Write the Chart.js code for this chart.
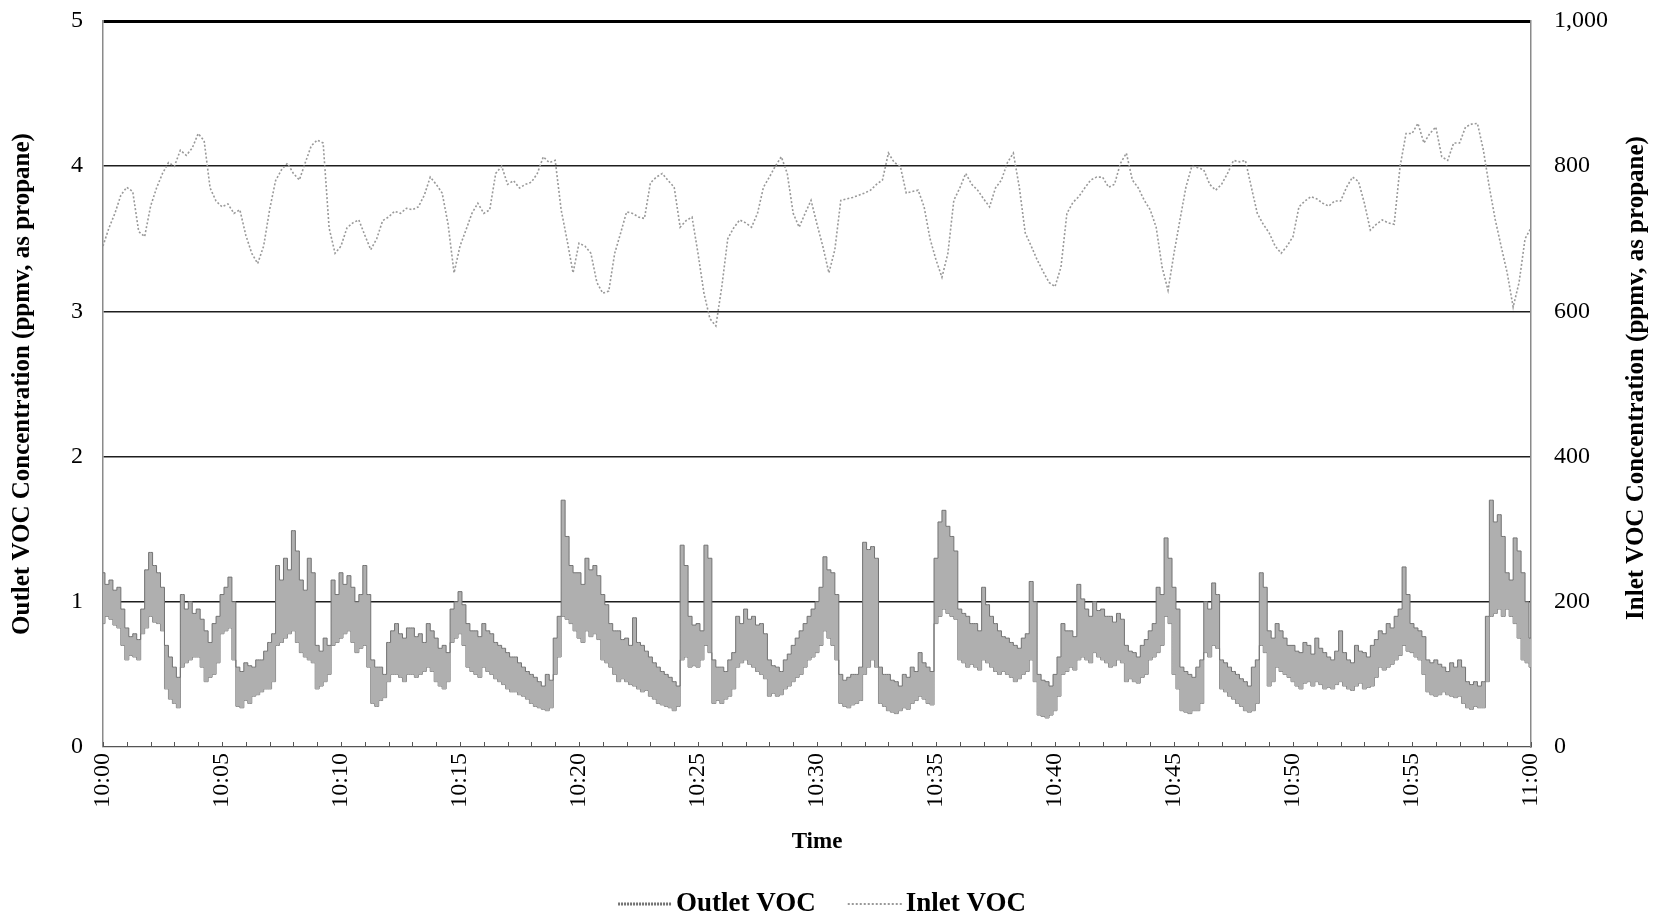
<!DOCTYPE html>
<html>
<head>
<meta charset="utf-8">
<title>Outlet and Inlet VOC Concentration</title>
<script src="https://cdn.jsdelivr.net/npm/chart.js@4.4.1/dist/chart.umd.min.js"></script>
<style>
  html, body { margin: 0; padding: 0; background: #fff; }
  #wrap { width: 1659px; height: 922px; }
</style>
</head>
<body>
<div id="wrap"><canvas id="c" width="1659" height="922"></canvas></div>
<script>
// Clock labels for the x axis, one every 5 minutes from 10:00 to 11:00
const timeLabels = ['10:00', '10:05', '10:10', '10:15', '10:20', '10:25', '10:30',
                    '10:35', '10:40', '10:45', '10:50', '10:55', '11:00'];

// Outlet VOC (ppmv as propane): highest and lowest reading in each 10-second window,
// six windows per minute
const OUTLET_STEP_MIN = 1 / 6;
const outletMax = [
  1.20, 1.12, 1.15, 1.08, 1.10, 0.95,   0.82, 0.76, 0.78, 0.74, 0.95, 1.22,
  1.34, 1.25, 1.20, 1.10, 0.70, 0.62,   0.55, 0.48, 1.05, 0.95, 1.00, 0.92,
  0.95, 0.88, 0.80, 0.72, 0.85, 0.90,   1.05, 1.10, 1.17, 1.00, 0.55, 0.52,
  0.58, 0.56, 0.55, 0.60, 0.60, 0.66,   0.72, 0.78, 1.25, 1.15, 1.30, 1.22,
  1.49, 1.35, 1.15, 1.08, 1.30, 1.20,   0.70, 0.66, 0.75, 0.70, 1.15, 1.05,
  1.20, 1.12, 1.18, 1.10, 1.00, 1.05,   1.25, 1.05, 0.60, 0.55, 0.55, 0.50,
  0.72, 0.80, 0.85, 0.78, 0.75, 0.82,   0.82, 0.76, 0.78, 0.72, 0.85, 0.80,
  0.75, 0.68, 0.70, 0.65, 0.95, 1.00,   1.07, 0.98, 0.85, 0.80, 0.80, 0.76,
  0.85, 0.80, 0.78, 0.72, 0.70, 0.68,   0.65, 0.62, 0.62, 0.58, 0.55, 0.52,
  0.50, 0.48, 0.45, 0.42, 0.50, 0.46,   0.75, 0.90, 1.70, 1.45, 1.25, 1.20,
  1.20, 1.12, 1.30, 1.22, 1.25, 1.18,   1.05, 0.98, 0.85, 0.80, 0.80, 0.74,
  0.75, 0.70, 0.89, 0.72, 0.70, 0.66,   0.62, 0.58, 0.55, 0.52, 0.50, 0.48,
  0.45, 0.42, 1.39, 1.25, 0.90, 0.84,   0.85, 0.80, 1.39, 1.30, 0.60, 0.55,
  0.55, 0.52, 0.60, 0.65, 0.90, 0.85,   0.95, 0.88, 0.90, 0.84, 0.85, 0.78,
  0.60, 0.56, 0.55, 0.52, 0.60, 0.64,   0.70, 0.75, 0.80, 0.85, 0.90, 0.95,
  1.00, 1.10, 1.31, 1.22, 1.20, 1.05,   0.50, 0.46, 0.48, 0.50, 0.50, 0.55,
  1.41, 1.36, 1.38, 1.30, 0.55, 0.50,   0.50, 0.46, 0.45, 0.42, 0.50, 0.48,
  0.55, 0.52, 0.65, 0.58, 0.55, 0.52,   1.30, 1.55, 1.63, 1.52, 1.45, 1.35,
  0.95, 0.92, 0.90, 0.85, 0.85, 0.80,   1.10, 0.98, 0.90, 0.85, 0.80, 0.76,
  0.75, 0.72, 0.70, 0.68, 0.75, 0.78,   1.14, 1.00, 0.50, 0.46, 0.45, 0.42,
  0.50, 0.62, 0.85, 0.80, 0.80, 0.76,   1.12, 1.02, 0.95, 0.90, 1.00, 0.94,
  0.95, 0.90, 0.90, 0.86, 0.92, 0.88,   0.70, 0.66, 0.65, 0.62, 0.70, 0.74,
  0.80, 0.85, 1.10, 1.05, 1.44, 1.30,   1.10, 0.95, 0.55, 0.52, 0.50, 0.48,
  0.55, 0.60, 1.00, 0.95, 1.13, 1.05,   0.60, 0.58, 0.55, 0.52, 0.50, 0.47,
  0.45, 0.42, 0.55, 0.60, 1.20, 1.10,   0.80, 0.75, 0.85, 0.80, 0.75, 0.70,
  0.70, 0.66, 0.65, 0.72, 0.70, 0.64,   0.75, 0.68, 0.65, 0.62, 0.60, 0.66,
  0.80, 0.65, 0.60, 0.58, 0.70, 0.66,   0.65, 0.62, 0.70, 0.74, 0.80, 0.78,
  0.85, 0.82, 0.90, 0.95, 1.24, 1.05,   0.85, 0.82, 0.80, 0.76, 0.60, 0.58,
  0.60, 0.57, 0.55, 0.52, 0.58, 0.55,   0.60, 0.55, 0.45, 0.43, 0.45, 0.42,
  0.45, 0.90, 1.70, 1.55, 1.60, 1.45,   1.20, 1.15, 1.44, 1.35, 1.20, 1.00,
  0.75
];
const outletMin = [
  0.85, 0.90, 0.88, 0.84, 0.82, 0.70,   0.60, 0.63, 0.62, 0.60, 0.78, 0.82,
  0.90, 0.86, 0.85, 0.80, 0.40, 0.33,   0.30, 0.27, 0.55, 0.58, 0.60, 0.62,
  0.62, 0.55, 0.45, 0.48, 0.50, 0.58,   0.78, 0.80, 0.82, 0.60, 0.28, 0.27,
  0.32, 0.30, 0.35, 0.36, 0.38, 0.40,   0.40, 0.45, 0.70, 0.72, 0.75, 0.78,
  0.80, 0.72, 0.65, 0.62, 0.60, 0.58,   0.40, 0.42, 0.45, 0.50, 0.70, 0.72,
  0.75, 0.78, 0.80, 0.72, 0.65, 0.68,   0.70, 0.55, 0.30, 0.28, 0.32, 0.34,
  0.45, 0.50, 0.50, 0.48, 0.45, 0.50,   0.50, 0.48, 0.50, 0.52, 0.55, 0.52,
  0.45, 0.42, 0.40, 0.45, 0.72, 0.75,   0.78, 0.70, 0.55, 0.52, 0.50, 0.48,
  0.55, 0.52, 0.50, 0.47, 0.45, 0.43,   0.40, 0.38, 0.38, 0.36, 0.35, 0.33,
  0.30, 0.28, 0.27, 0.26, 0.25, 0.27,   0.50, 0.62, 0.90, 0.88, 0.85, 0.80,
  0.75, 0.72, 0.80, 0.76, 0.78, 0.74,   0.60, 0.58, 0.55, 0.50, 0.45, 0.47,
  0.45, 0.43, 0.42, 0.40, 0.38, 0.39,   0.35, 0.33, 0.30, 0.29, 0.28, 0.27,
  0.25, 0.28, 0.60, 0.62, 0.55, 0.56,   0.55, 0.60, 0.70, 0.65, 0.30, 0.32,
  0.30, 0.33, 0.35, 0.40, 0.55, 0.58,   0.60, 0.57, 0.55, 0.52, 0.50, 0.47,
  0.35, 0.37, 0.35, 0.36, 0.40, 0.42,   0.45, 0.48, 0.50, 0.55, 0.60, 0.62,
  0.65, 0.70, 0.80, 0.75, 0.70, 0.60,   0.30, 0.28, 0.27, 0.29, 0.30, 0.32,
  0.50, 0.55, 0.60, 0.55, 0.30, 0.28,   0.25, 0.24, 0.23, 0.25, 0.27, 0.26,
  0.30, 0.32, 0.35, 0.33, 0.30, 0.29,   0.85, 0.90, 0.95, 0.92, 0.90, 0.88,
  0.60, 0.58, 0.55, 0.57, 0.55, 0.53,   0.60, 0.58, 0.55, 0.52, 0.50, 0.52,
  0.50, 0.48, 0.45, 0.47, 0.50, 0.52,   0.60, 0.45, 0.22, 0.21, 0.20, 0.22,
  0.25, 0.35, 0.50, 0.52, 0.55, 0.53,   0.60, 0.62, 0.60, 0.58, 0.65, 0.62,
  0.60, 0.58, 0.55, 0.56, 0.60, 0.58,   0.45, 0.47, 0.45, 0.44, 0.48, 0.50,
  0.60, 0.62, 0.65, 0.70, 0.90, 0.85,   0.50, 0.40, 0.25, 0.24, 0.23, 0.25,
  0.25, 0.30, 0.65, 0.62, 0.70, 0.68,   0.40, 0.38, 0.35, 0.33, 0.30, 0.28,
  0.25, 0.24, 0.25, 0.30, 0.70, 0.65,   0.42, 0.45, 0.55, 0.52, 0.50, 0.48,
  0.45, 0.42, 0.40, 0.44, 0.45, 0.42,   0.45, 0.43, 0.40, 0.41, 0.40, 0.43,
  0.45, 0.42, 0.40, 0.39, 0.42, 0.44,   0.40, 0.41, 0.42, 0.48, 0.55, 0.53,
  0.55, 0.57, 0.60, 0.63, 0.70, 0.66,   0.65, 0.62, 0.60, 0.50, 0.38, 0.36,
  0.35, 0.36, 0.38, 0.36, 0.35, 0.34,   0.35, 0.30, 0.27, 0.26, 0.28, 0.27,
  0.27, 0.45, 0.90, 0.92, 0.95, 0.90,   0.95, 0.90, 0.85, 0.75, 0.60, 0.58,
  0.55
];

// Inlet VOC (ppmv as propane), one reading every 15 seconds
const INLET_STEP_MIN = 0.25;
const inletVOC = [
  690, 715, 735, 760,   771, 765, 710, 703,   745, 770, 790, 805,   800, 822, 815, 825,
  845, 835, 770, 752,   744, 748, 735, 740,   705, 680, 666, 690,   740, 780, 795, 804,
  790, 781, 805, 828,   836, 832, 715, 680,   690, 715, 722, 726,   705, 685, 700, 725,
  730, 738, 735, 742,   740, 744, 760, 785,   775, 763, 720, 653,   690, 712, 735, 749,
  735, 740, 790, 800,   775, 780, 770, 775,   778, 790, 813, 805,   808, 740, 698, 653,
  694, 690, 680, 640,   625, 628, 680, 708,   737, 735, 730, 728,   777, 785, 790, 780,
  771, 716, 725, 730,   680, 625, 590, 580,   634, 700, 715, 726,   722, 716, 735, 771,
  785, 800, 813, 790,   735, 716, 735, 753,   720, 689, 653, 685,   753, 755, 757, 760,
  763, 767, 775, 781,   818, 805, 800, 763,   765, 767, 744, 700,   671, 647, 680, 753,
  770, 790, 775, 767,   755, 744, 770, 781,   805, 818, 771, 708,   690, 671, 655, 640,
  634, 661, 735, 750,   758, 770, 781, 785,   785, 771, 775, 804,   818, 781, 770, 753,
  740, 716, 661, 629,   680, 726, 771, 800,   798, 795, 775, 767,   775, 790, 808, 806,
  808, 771, 735, 720,   708, 690, 680, 690,   703, 744, 752, 758,   755, 749, 745, 752,
  752, 771, 785, 779,   749, 712, 720, 726,   722, 720, 800, 845,   845, 859, 832, 845,
  854, 813, 808, 832,   832, 854, 858, 859,   822, 771, 726, 689,   653, 606, 640, 700,
  715
];

const SERIF = "'Liberation Serif', 'Times New Roman', serif";

const toPoints = (values, step) => values.map((v, i) => ({ x: i * step, y: v }));

// Vertical axes should not push the plot area down for their end labels
const fixedWidth = (w) => (scale) => {
  scale.width = w;
  scale.paddingTop = 0;
  scale.paddingBottom = 0;
};

// Short inward tick marks at every minute along the time axis
const minuteTicks = {
  id: 'minuteTicks',
  afterDatasetsDraw(chart) {
    const { ctx, scales: { x } } = chart;
    const bottom = chart.chartArea.bottom;
    ctx.save();
    ctx.strokeStyle = '#555';
    ctx.lineWidth = 1;
    for (let m = 0; m <= 60; m++) {
      const px = Math.round(x.getPixelForValue(m)) + 0.5;
      ctx.beginPath();
      ctx.moveTo(px, bottom);
      ctx.lineTo(px, bottom - 5);
      ctx.stroke();
    }
    ctx.restore();
  }
};

// Right-hand axis title, reading bottom to top like the left one
const rightTitle = {
  id: 'rightTitle',
  afterDraw(chart) {
    const { ctx, chartArea } = chart;
    const y2 = chart.scales.y2;
    ctx.save();
    ctx.font = 'bold 25px ' + SERIF;
    ctx.fillStyle = '#000';
    ctx.textAlign = 'center';
    ctx.textBaseline = 'middle';
    ctx.translate(y2.right - 22, (chartArea.top + chartArea.bottom) / 2 - 6);
    ctx.rotate(-Math.PI / 2);
    ctx.fillText('Inlet VOC Concentration (ppmv, as propane)', 0, 0);
    ctx.restore();
  }
};

// Legend below the axis title: a line sample followed by the series name
const bottomLegend = {
  id: 'bottomLegend',
  afterDraw(chart) {
    const { ctx } = chart;
    const items = [
      { ds: chart.data.datasets[0], sample: 53, gap: 5, dash: [2, 1], width: 3 },
      { ds: chart.data.datasets[2], sample: 55, gap: 3, dash: [2, 2], width: 2 }
    ];
    const itemGap = 32;
    ctx.save();
    ctx.font = 'bold 27px ' + SERIF;
    let total = 0;
    items.forEach((it, i) => {
      it.textW = ctx.measureText(it.ds.label).width;
      total += it.sample + it.gap + it.textW + (i ? itemGap : 0);
    });
    const cy = 904;
    let x = 822 - total / 2;
    items.forEach((it, i) => {
      if (i) x += itemGap;
      ctx.strokeStyle = it.ds.borderColor;
      ctx.lineWidth = it.width;
      ctx.setLineDash(it.dash);
      ctx.beginPath();
      ctx.moveTo(x, cy);
      ctx.lineTo(x + it.sample, cy);
      ctx.stroke();
      ctx.setLineDash([]);
      x += it.sample + it.gap;
      ctx.fillStyle = '#000';
      ctx.textAlign = 'left';
      ctx.textBaseline = 'middle';
      ctx.fillText(it.ds.label, x, cy);
      x += it.textW;
    });
    ctx.restore();
  }
};

new Chart(document.getElementById('c'), {
  type: 'line',
  data: {
    datasets: [
      {
        label: 'Outlet VOC',
        data: toPoints(outletMax, OUTLET_STEP_MIN),
        yAxisID: 'y',
        stepped: 'middle',
        borderColor: '#737373',
        borderWidth: 1,
        backgroundColor: '#afafaf',
        fill: '+1',
        pointRadius: 0
      },
      {
        label: 'Outlet VOC low',
        data: toPoints(outletMin, OUTLET_STEP_MIN),
        yAxisID: 'y',
        stepped: 'middle',
        borderColor: '#737373',
        borderWidth: 1,
        fill: false,
        pointRadius: 0
      },
      {
        label: 'Inlet VOC',
        data: toPoints(inletVOC, INLET_STEP_MIN),
        yAxisID: 'y2',
        borderColor: '#999999',
        borderWidth: 1.6,
        borderDash: [2, 2],
        fill: false,
        tension: 0,
        pointRadius: 0
      }
    ]
  },
  options: {
    responsive: false,
    devicePixelRatio: 1,
    animation: false,
    layout: { padding: { top: 21, left: 0, right: 0, bottom: 0 } },
    plugins: {
      legend: { display: false },
      tooltip: { enabled: false }
    },
    scales: {
      x: {
        type: 'linear',
        position: 'bottom',
        min: 0,
        max: 60,
        afterBuildTicks(scale) {
          scale.ticks = timeLabels.map((_, i) => ({ value: i * 5 }));
        },
        ticks: {
          callback: (v) => timeLabels[Math.round(v / 5)],
          autoSkip: false,
          minRotation: 90,
          maxRotation: 90,
          padding: 6,
          color: '#000',
          font: { family: SERIF, size: 24 }
        },
        grid: { drawOnChartArea: false, drawTicks: false },
        border: { display: true, color: '#555', width: 1.2 },
        title: {
          display: true,
          text: 'Time',
          color: '#000',
          font: { family: SERIF, size: 23, weight: 'bold' },
          padding: { top: 0, bottom: 66 }
        },
        afterFit(scale) { scale.height = 175; }
      },
      y: {
        position: 'left',
        min: 0,
        max: 5,
        ticks: {
          stepSize: 1,
          padding: 20,
          color: '#000',
          font: { family: SERIF, size: 24 }
        },
        grid: {
          drawTicks: false,
          color: (c) => (c.tick && c.tick.value === 5 ? '#000' : '#1e1e1e'),
          lineWidth: (c) => {
            if (!c.tick) return 1;
            if (c.tick.value === 0) return 0;
            return c.tick.value === 5 ? 3 : 1.4;
          }
        },
        border: { display: true, color: '#8a8a8a', width: 1.5 },
        title: {
          display: true,
          text: 'Outlet VOC Concentration (ppmv, as propane)',
          color: '#000',
          font: { family: SERIF, size: 25, weight: 'bold' },
          padding: { top: 8, bottom: 0 }
        },
        afterFit: fixedWidth(103)
      },
      y2: {
        position: 'right',
        min: 0,
        max: 1000,
        ticks: {
          stepSize: 200,
          padding: 23,
          color: '#000',
          font: { family: SERIF, size: 24 },
          callback: (v) => v.toLocaleString('en-US')
        },
        grid: { drawOnChartArea: false, drawTicks: false },
        border: { display: true, color: '#8a8a8a', width: 1.5 },
        title: { display: false },
        afterFit: fixedWidth(128)
      }
    }
  },
  plugins: [minuteTicks, rightTitle, bottomLegend]
});
</script>
</body>
</html>
